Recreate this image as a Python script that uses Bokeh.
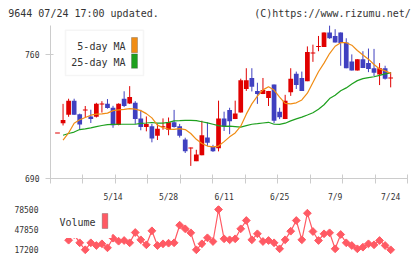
import numpy as np
from bokeh.plotting import figure
from bokeh.models import (Range1d, FixedTicker, BoxAnnotation, Label,
                          ColumnDataSource, LinearAxis)
from bokeh.layouts import column
from bokeh.embed import file_html
from bokeh.resources import INLINE

# ---- daily prices for 9644 (trading days 4/25 .. 7/24) ----
open_ = [715.7, 721.2, 725.9, 733.9, 726.3, 728.4, 725.0, 724.8, 731.9, 732.1,
         729.9, 720.2, 735.0, 732.3, 732.7, 723.9, 719.0, 719.5, 714.1, 719.0,
         717.5, 721.7, 719.5, 712.0, 707.0, 699.8, 703.1, 713.1, 707.7, 707.0,
         723.9, 728.7, 723.5, 727.2, 740.5, 746.7, 739.4, 737.6, 735.4, 743.0,
         727.6, 723.5, 738.7, 749.1, 746.7, 744.9, 760.7, 764.4, 764.2, 772.4,
         770.4, 772.4, 766.7, 756.0, 750.9, 757.3, 755.1, 752.2, 748.7, 752.2,
         746.6]
high = [715.7, 732.1, 735.0, 735.0, 726.6, 730.9, 728.8, 732.7, 733.6, 734.8,
        731.0, 732.4, 739.2, 742.1, 733.6, 728.7, 725.0, 720.8, 720.8, 723.9,
        724.4, 728.7, 720.8, 713.0, 707.5, 706.2, 722.6, 721.7, 709.0, 733.9,
        727.7, 729.9, 733.9, 746.3, 752.2, 752.2, 744.0, 746.7, 739.4, 743.0,
        729.9, 737.2, 752.2, 750.3, 750.3, 764.5, 765.5, 770.4, 772.4, 776.4,
        774.2, 772.4, 769.1, 760.0, 757.3, 761.8, 763.3, 763.1, 755.1, 753.6,
        750.0]
low = [715.7, 719.9, 724.8, 725.9, 717.6, 724.4, 721.3, 724.4, 727.2, 729.4,
       718.6, 720.0, 730.3, 732.0, 720.8, 717.2, 716.6, 710.4, 711.7, 717.5,
       714.4, 718.7, 713.1, 704.4, 697.1, 699.8, 703.1, 708.4, 705.0, 705.3,
       716.8, 715.0, 723.5, 727.2, 739.4, 739.1, 732.1, 737.6, 730.9, 721.2,
       723.5, 723.5, 736.6, 740.5, 739.4, 744.9, 755.8, 761.8, 764.2, 768.8,
       766.7, 753.6, 752.2, 750.9, 750.9, 752.3, 750.0, 747.8, 742.7, 745.8,
       741.4]
close = [715.7, 723.0, 733.9, 725.9, 720.5, 728.8, 723.5, 732.1, 732.1, 729.7,
         720.0, 732.1, 730.9, 736.0, 723.5, 719.0, 720.8, 712.6, 718.0, 719.5,
         721.7, 719.0, 714.1, 705.3, 707.5, 703.5, 714.4, 710.2, 705.3, 723.9,
         719.4, 722.3, 726.6, 745.4, 745.4, 741.8, 737.6, 739.9, 739.4, 722.6,
         724.5, 733.9, 746.3, 742.7, 739.4, 761.3, 760.9, 764.5, 772.4, 769.1,
         766.7, 766.4, 752.2, 750.9, 757.3, 752.3, 751.8, 749.6, 752.2, 746.3,
         746.7]

# moving averages as plotted
ma5 = [np.nan, 711.7, 715.7, 721.2, 723.1, 724.4, 725.7, 726.3, 726.4, 726.9,
       728.3, 728.7, 729.0, 729.4, 729.1, 728.3, 726.6, 724.2, 720.1, 718.7,
       717.9, 717.7, 718.1, 717.6, 715.4, 712.1, 709.7, 708.3, 707.8, 708.3,
       710.8, 713.5, 715.7, 719.5, 726.3, 732.1, 736.5, 740.0, 741.8, 739.9,
       735.9, 732.4, 732.1, 732.7, 734.3, 738.1, 744.1, 750.2, 755.1, 760.5,
       764.6, 766.6, 766.6, 765.2, 762.2, 759.7, 757.3, 754.3, 751.8, 750.7,
       749.3]
ma25 = [np.nan, 714.4, 715.4, 716.2, 717.6, 718.0, 718.6, 719.3, 719.9, 720.4,
        720.5, 720.6, 720.6, 720.6, 720.6, 721.1, 721.3, 721.6, 721.2, 721.2,
        721.7, 722.5, 722.6, 722.8, 722.8, 722.6, 722.0, 721.4, 720.6, 719.8,
        719.4, 719.5, 719.3, 719.0, 719.8, 720.6, 720.9, 721.3, 721.7, 720.6,
        720.5, 721.2, 722.5, 723.6, 724.6, 725.8, 727.1, 729.1, 731.6, 735.1,
        737.0, 739.5, 741.1, 743.3, 745.2, 746.3, 746.9, 747.4, 748.2, 749.0,
        749.6]

volume = [np.nan, np.nan, 31450, 40000, 27470, 16800, 27470, 23330, 25940, 19800,
          34520, 29920, 30990, 27470, 43250, 32070, 24400, 45860, 23330, 25940,
          26860, 27470, 54440, 48920, 42790, 16740, 25940, 35130, 29460, 78500,
          33600, 32070, 33600, 48920, 61640, 32070, 41260, 29460, 30990, 27470,
          18270, 32070, 45250, 61640, 32070, 72830, 44780, 30990, 41260, 42790,
          18270, 40190, 27470, 23330, 18270, 20730, 25940, 24400, 30990, 23330,
          16740]

date_index = [10, 20, 30, 40, 50, 60]
date_labels = ["5/14", "5/28", "6/11", "6/25", "7/9", "7/24"]
price_ticks = [690, 760]
volume_ticks = [17200, 47850, 78500]

header_texts = ["9644 07/24 17:00 updated.", "(C)https://www.rizumu.net/"]

# ---- styling ----
FONT = "DejaVu Sans Mono"
TXT = "#333333"
AXIS = "#cccccc"
UP, DOWN = "#e00000", "#4040c0"
C_MA5, C_MA25 = "#f08c14", "#1ea01e"
C_VOL = "#ff5a64"

W = 420
MAIN_H, VOL_H = 204, 55
BL, BR = 50, 13           # left / right borders (px)
M_TOP, M_BOT = 25, 20     # price frame borders
V_TOP, V_BOT = 1, 4       # volume frame borders

X_START, X_END = -1.26, 63.03
Y_START, Y_END = 690.0, 776.3
V_START, V_END = 8005.0, 84630.0

FW = W - BL - BR
MFH = MAIN_H - M_TOP - M_BOT
VFH = VOL_H - V_TOP - V_BOT


def xd(px):
    return X_START + (px - BL) * (X_END - X_START) / FW


def yd(py):
    return Y_START + (MAIN_H - M_BOT - py) * (Y_END - Y_START) / MFH


def vd(py):
    # py measured on the whole page; volume panel starts below the price one
    return V_START + (MAIN_H + VOL_H - V_BOT - py) * (V_END - V_START) / VFH


n = len(close)
idx = np.arange(n)
colors = [UP if c >= o else DOWN for o, c in zip(open_, close)]
px_unit = (Y_END - Y_START) / MFH
b_lo, b_hi = [], []
for o, c in zip(open_, close):
    lo, hi = min(o, c), max(o, c)
    if hi - lo < px_unit:
        mid = (hi + lo) / 2
        lo, hi = mid - px_unit / 2, mid + px_unit / 2
    b_lo.append(lo)
    b_hi.append(hi)

src = ColumnDataSource(dict(x=idx, o=open_, h=high, l=low, c=close,
                            lo=b_lo, hi=b_hi, col=colors, ma5=ma5, ma25=ma25))

xr = Range1d(X_START, X_END)

p = figure(width=W, height=MAIN_H, x_range=xr, y_range=Range1d(Y_START, Y_END),
           output_backend="svg", toolbar_location=None, title=None,
           min_border_left=BL, min_border_right=BR,
           min_border_top=M_TOP, min_border_bottom=M_BOT)
p.outline_line_color = None
p.grid.visible = False

p.segment(x0="x", y0="l", x1="x", y1="h", source=src, line_color="col", line_width=1)
p.vbar(x="x", width=0.85, bottom="lo", top="hi", source=src,
       fill_color="col", line_color=None)
p.line("x", "ma25", source=src, line_color=C_MA25, line_width=1.2)
p.line("x", "ma5", source=src, line_color=C_MA5, line_width=1.2)

xa = p.xaxis[0]
xa.ticker = FixedTicker(ticks=date_index,
                        minor_ticks=list(np.linspace(X_START, X_END, 12)))
xa.major_label_overrides = {i: s for i, s in zip(date_index, date_labels)}
xa.major_tick_in = 0
xa.major_tick_out = 0
xa.minor_tick_in = 4
xa.minor_tick_out = 5
xa.minor_tick_line_color = AXIS
xa.axis_line_color = AXIS
xa.major_label_standoff = 9
xa.major_label_text_font = FONT
xa.major_label_text_font_size = "8px"
xa.major_label_text_color = TXT

ya = p.yaxis[0]
ya.ticker = FixedTicker(ticks=price_ticks)
ya.major_tick_in = 3
ya.major_tick_out = 5
ya.major_tick_line_color = AXIS
ya.minor_tick_line_color = None
ya.axis_line_color = AXIS
ya.major_label_standoff = 6
ya.major_label_text_font = FONT
ya.major_label_text_font_size = "8px"
ya.major_label_text_color = TXT

# header line: an unlined axis on top, measured in page pixels
p.extra_x_ranges = {"page": Range1d(BL, W - BR)}
head_pos = [83, 332]
head = LinearAxis(x_range_name="page", ticker=FixedTicker(ticks=head_pos),
                  major_label_overrides={k: t for k, t in zip(head_pos, header_texts)},
                  axis_line_color=None, major_tick_line_color=None,
                  major_tick_in=0, major_tick_out=0,
                  minor_tick_line_color=None, minor_tick_in=0, minor_tick_out=0,
                  major_label_standoff=7,
                  major_label_text_font=FONT, major_label_text_font_size="10px",
                  major_label_text_color=TXT)
p.add_layout(head, "above")

# moving-average legend
p.add_layout(BoxAnnotation(left=xd(65), right=xd(143), top=yd(30), bottom=yd(77),
                           fill_color="white", fill_alpha=1.0,
                           line_color="#dddddd", line_width=1.5))
for text, col, ty, top, bot in [("5-day MA", C_MA5, 46.7, 37.5, 53.3),
                                ("25-day MA", C_MA25, 63.3, 54.5, 69.5)]:
    p.add_layout(Label(x=xd(125), y=yd(ty), text=text, text_font=FONT,
                       text_font_size="10px", text_color=TXT,
                       text_baseline="middle", text_align="right"))
    p.add_layout(BoxAnnotation(left=xd(131), right=xd(137), top=yd(top), bottom=yd(bot),
                               fill_color=col, fill_alpha=1.0,
                               line_color="#444444", line_width=1))

# ---- volume panel ----
v = figure(width=W, height=VOL_H, x_range=xr, y_range=Range1d(V_START, V_END),
           output_backend="svg", toolbar_location=None, title=None,
           x_axis_location=None,
           min_border_left=BL, min_border_right=BR,
           min_border_top=V_TOP, min_border_bottom=V_BOT)
v.outline_line_color = None
v.grid.visible = False

vsrc = ColumnDataSource(dict(x=idx, vol=volume))
v.line("x", "vol", source=vsrc, line_color=C_VOL, line_width=1.2)
v.scatter("x", "vol", source=vsrc, marker="square", angle=np.pi / 4, size=5.5,
          fill_color=C_VOL, line_color=C_VOL)

va = v.yaxis[0]
va.ticker = FixedTicker(ticks=volume_ticks)
va.axis_line_color = None
va.major_tick_line_color = None
va.minor_tick_line_color = None
va.major_label_standoff = 6
va.major_label_text_font = FONT
va.major_label_text_font_size = "8px"
va.major_label_text_color = TXT

v.add_layout(BoxAnnotation(left=xd(54), right=xd(111), top=vd(211), bottom=vd(237.5),
                           fill_color="white", fill_alpha=1.0, line_color=None))
v.add_layout(Label(x=xd(59), y=vd(222.3), text="Volume", text_font=FONT,
                   text_font_size="10px", text_color=TXT,
                   text_baseline="middle", text_align="left"))
v.add_layout(BoxAnnotation(left=xd(101.7), right=xd(107.3), top=vd(213), bottom=vd(228),
                           fill_color=C_VOL, fill_alpha=1.0,
                           line_color="#444444", line_width=1))

layout = column(p, v, spacing=0)
open("out.html", "w").write(file_html(layout, INLINE))
